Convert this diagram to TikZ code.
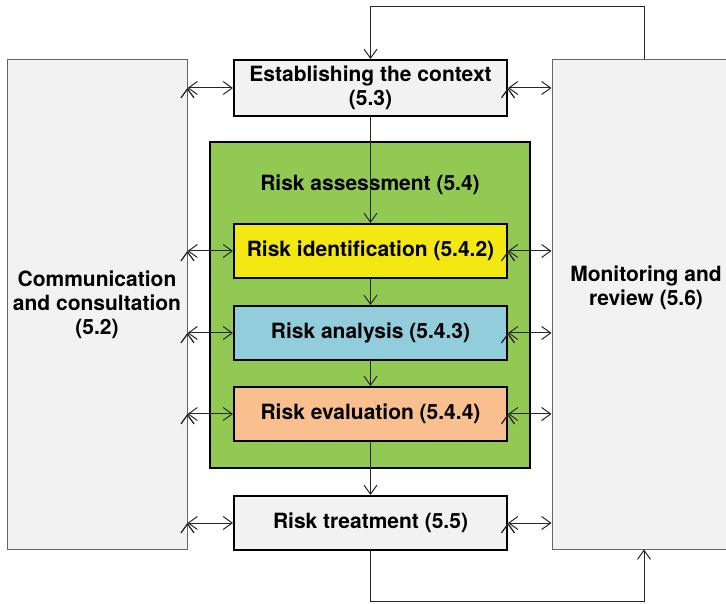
\documentclass[tikz,border=0pt]{standalone}
\usepackage{fontspec}
\setmainfont{TeX Gyre Heros}
\usetikzlibrary{positioning}
\usetikzlibrary{calc}
\usetikzlibrary{arrows.meta}

\definecolor{boxgray}{HTML}{F2F2F2}
\definecolor{assessgreen}{HTML}{92C952}
\definecolor{identyellow}{HTML}{F4E812}
\definecolor{analysisblue}{HTML}{92CDDC}
\definecolor{evalorange}{HTML}{F9BF8F}

\tikzset{
  sidebox/.style={draw=black!60, line width=1pt, fill=boxgray, minimum width=180pt, minimum height=489pt, inner sep=0pt, align=center},
  stepbox/.style={draw, line width=2pt, minimum width=273pt, minimum height=54pt, inner sep=0pt, align=center},
  flow/.style={line width=1pt, draw=black!85}
}

\begin{document}
\begin{tikzpicture}[x=1pt, y=1pt, >={Straight Barb[length=9pt,width=13pt]}, font=\bfseries\fontsize{21}{24}\selectfont]
            \useasboundingbox (0,0) rectangle (726,603);
            \clip (0,0) rectangle (726,603);

            % Side boxes
            \node [sidebox] (comm) at (97,298.5) {Communication\\and consultation\\(5.2)};
            \node [sidebox, minimum width=188pt] (monitor) at (646,298.5) {};
            \node [align=center] (monitortext) at (646,315) {Monitoring and\\review (5.6)};

            % Risk assessment
            \node [draw, line width=2pt, fill=assessgreen, minimum width=320pt, minimum height=326pt] (assess) at (370,298) {};
            \node (assesstext) at (370,418) {Risk assessment (5.4)};

            % Process steps
            \node [stepbox, fill=boxgray, minimum height=56pt] (context) at (370.5,515) {Establishing the context\\(5.3)};
            \node [stepbox, fill=identyellow, below=106pt of context] (ident) {Risk identification (5.4.2)};
            \node [stepbox, fill=analysisblue, below=26pt of ident] (analysis) {Risk analysis (5.4.3)};
            \node [stepbox, fill=evalorange, below=25pt of analysis] (evaluation) {Risk evaluation (5.4.4)};
            \node [stepbox, fill=boxgray, below=53pt of evaluation] (treatment) {Risk treatment (5.5)};

            \coordinate (looptop) at (644,596);
            \coordinate (loopbot) at (644,1.5);

            % Main flow
            \path [flow, ->] (context) edge (ident);
            \path [flow, ->] (ident) edge (analysis);
            \path [flow, ->] (analysis) edge (evaluation);
            \path [flow, ->] (evaluation) edge (treatment);

            % Communication links
            \path [flow, <->] (comm.east |- context) edge (context.west);
            \path [flow, <->] (comm.east |- ident) edge (ident.west);
            \path [flow, <->] (comm.east |- analysis) edge (analysis.west);
            \path [flow, <->] (comm.east |- evaluation) edge (evaluation.west);
            \path [flow, <->] (comm.east |- treatment) edge (treatment.west);

            % Monitoring links
            \path [flow, <->] (context.east) edge (monitor.west |- context);
            \path [flow, <->] (ident.east) edge (monitor.west |- ident);
            \path [flow, <->] (analysis.east) edge (monitor.west |- analysis);
            \path [flow, <->] (evaluation.east) edge (monitor.west |- evaluation);
            \path [flow, <->] (treatment.east) edge (monitor.west |- treatment);

            % Feedback loops
            \draw [flow, ->] (monitor.north -| looptop) -- (looptop) -| (context.north);
            \draw [flow, ->] (treatment.south) |- (loopbot) -- (monitor.south -| loopbot);
        \end{tikzpicture}
\end{document}
